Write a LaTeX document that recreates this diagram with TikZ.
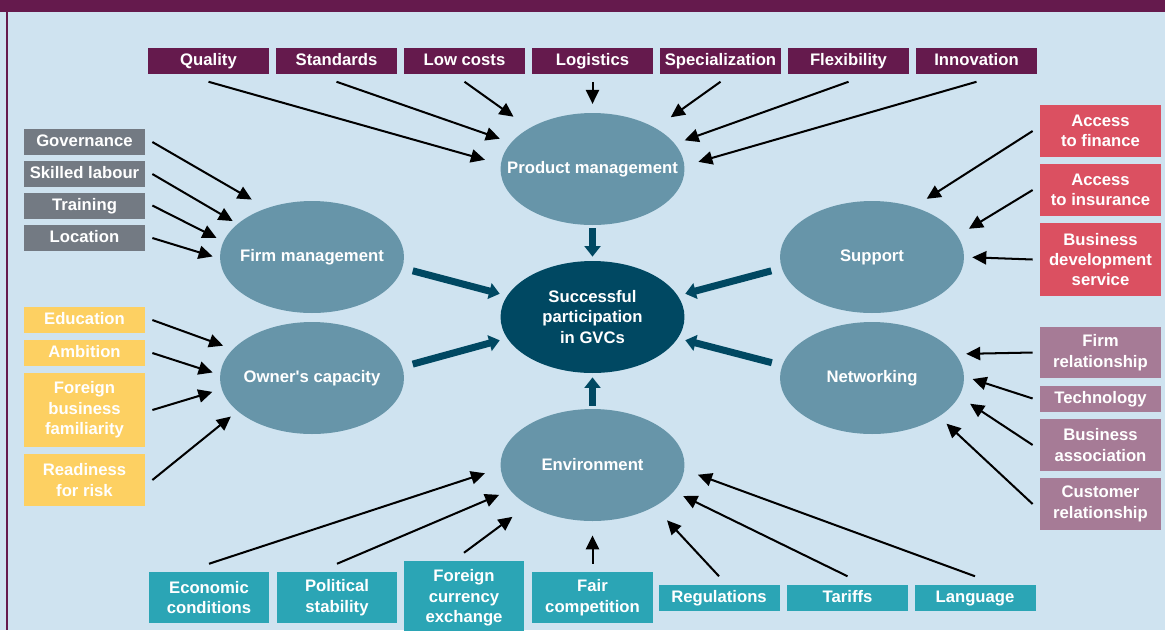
\documentclass[tikz,border=0pt]{standalone}
\usepackage{fontspec}
\setmainfont{Liberation Sans}
\usetikzlibrary{arrows.meta, shapes.geometric}

\definecolor{bgblue}{HTML}{CFE3F0}
\definecolor{plum}{HTML}{651A4D}
\definecolor{slate}{HTML}{737A83}
\definecolor{sand}{HTML}{FDD062}
\definecolor{coral}{HTML}{DB5061}
\definecolor{mauve}{HTML}{A67B96}
\definecolor{sea}{HTML}{2BA5B5}
\definecolor{blobc}{HTML}{6795A9}
\definecolor{core}{HTML}{004862}

\begin{document}
\begin{tikzpicture}[%
        x = 0.02cm, y = -0.02cm,
        > = {Triangle[length=8pt, width=7.5pt]},
        every node/.style = {font=\fontsize{9.5}{11.6}\selectfont\bfseries, text=white},
        tag/.style = {rectangle, fill=#1, minimum width=2.42cm,
            minimum height=0.52cm, inner sep=0pt, align=center},
        flat/.style = {tag=#1, text height=6.8pt, text depth=1.4pt},
        blob/.style = {ellipse, fill=blobc, minimum width=3.68cm,
            minimum height=2.24cm, inner sep=0pt},
        feed/.style = {->, line width=1.15pt},
        push/.style = {-{Triangle[length=6pt, width=9pt]}, line width=4pt, draw=core}
    ]

        \useasboundingbox (0, 0) rectangle (1165, 630);
        \fill[bgblue] (0, 0) rectangle (1165, 630);
        \fill[plum] (0, 0) rectangle (1165, 12);
        \draw[plum, line width=0.6pt] (7, 12) -- (7, 630);

        % the five drivers and the goal
        \node[blob] (pm) at (592.5, 169) [label=center:Product management] {};
        \node[blob] (fm) at (312, 257) [label=center:Firm management] {};
        \node[blob] (oc) at (312, 378) [label=center:Owner\textquotesingle s capacity] {};
        \node[blob] (sp) at (872, 257) [label=center:Support] {};
        \node[blob] (nw) at (872, 378) [label=center:Networking] {};
        \node[blob] (env) at (592.5, 465) [label=center:Environment] {};
        \node[blob, fill=core] (gvc) at (592.5, 317)
            [label={[align=center]center:Successful\\participation\\in GVCs}] {};

        % top row
        \foreach \name/\txt [count=\i from 0] in {qual/Quality, stan/Standards,
                cost/Low costs, logi/Logistics, spec/Specialization,
                flex/Flexibility, inno/Innovation}
            \node[flat=plum] (\name) at (208.5 + 128*\i, 60.5) {\txt};

        % left column
        \node[flat=slate] (gov) at (84.5, 142) {Governance};
        \node[flat=slate] (lab) at (84.5, 174) {Skilled labour};
        \node[flat=slate] (trn) at (84.5, 205.5) {Training};
        \node[flat=slate] (loc) at (84.5, 238) {Location};
        \node[flat=sand] (edu) at (84.5, 320) {Education};
        \node[flat=sand] (amb) at (84.5, 353) {Ambition};
        \node[tag=sand, minimum height=1.48cm] (fbf) at (84.5, 410)
            {Foreign\\business\\familiarity};
        \node[tag=sand, minimum height=1.04cm] (risk) at (84.5, 480)
            {Readiness\\for risk};

        % right column
        \node[tag=coral, minimum height=1.04cm] (fin) at (1100.5, 131) {Access\\to finance};
        \node[tag=coral, minimum height=1.04cm] (ins) at (1100.5, 190) {Access\\to insurance};
        \node[tag=coral, minimum height=1.46cm] (bds) at (1100.5, 259.5)
            {Business\\development\\service};
        \node[tag=mauve, minimum height=1.02cm] (frel) at (1100.5, 352.5) {Firm\\relationship};
        \node[flat=mauve] (tech) at (1100.5, 398.5) {Technology};
        \node[tag=mauve, minimum height=1.04cm] (assoc) at (1100.5, 445) {Business\\association};
        \node[tag=mauve, minimum height=1.04cm] (cust) at (1100.5, 504) {Customer\\relationship};

        % bottom row
        \node[tag=sea, minimum height=1.02cm] (econ) at (209, 597.5) {Economic\\conditions};
        \node[tag=sea, minimum height=1.02cm] (pol) at (337, 597.5) {Political\\stability};
        \node[tag=sea, minimum height=1.48cm] (fce) at (464, 598) {Foreign\\currency\\exchange};
        \node[tag=sea, minimum height=1.02cm] (fair) at (592.5, 597.5) {Fair\\competition};
        \node[flat=sea] (reg) at (719, 597.5) {Regulations};
        \node[flat=sea] (tar) at (847.5, 597.5) {Tariffs};
        \node[flat=sea] (lang) at (975, 597.5) {Language};

        % thin arrows: source / anchor angle / gap
        \foreach \src/\ang/\gap in {qual/177.8/9.2, stan/162.3/6.7, cost/147.8/11,
                logi/90/5, spec/33.2/10.5, flex/17.3/5.8, inno/2.5/8.1}
            \draw[feed, shorten >=\gap pt] ([yshift=-4.5pt]\src.south) -- (pm.\ang);
        \foreach \src/\ang/\gap in {gov/133.7/9.6, lab/156.9/3.1, trn/170/4.3, loc/181.4/4.2}
            \draw[feed, shorten >=\gap pt] ([xshift=4pt]\src.east) -- (fm.\ang);
        \foreach \src/\ang/\gap in {edu/160.3/5.8, amb/178.4/4.3, fbf/187.7/5.4, risk/204.7/4.8}
            \draw[feed, shorten >=\gap pt] ([xshift=4pt]\src.east) -- (oc.\ang);
        \foreach \src/\ang/\gap in {fin/50.4/8.5, ins/14.6/7.6, bds/0/4.5}
            \draw[feed, shorten >=\gap pt] ([xshift=-4pt]\src.west) -- (sp.\ang);
        \foreach \src/\ang/\gap in {frel/16.9/6, tech/1.7/4.9, assoc/348.5/7.4, cust/330.7/5.8}
            \draw[feed, shorten >=\gap pt] ([xshift=-4pt]\src.west) -- (nw.\ang);
        \foreach \src/\ang/\gap in {econ/182.2/9.2, pol/197.7/6.7, fce/212.2/11,
                fair/270/8, reg/326.8/10.5, tar/342.7/5.8, lang/357.5/8.1}
            \draw[feed, shorten >=\gap pt] ([yshift=4.5pt]\src.north) -- (env.\ang);

        % thick arrows into the goal
        \draw[push, shorten <=1.7pt, shorten >=2.3pt] (pm) -- (gvc);
        \draw[push, shorten <=1.7pt, shorten >=2.3pt] (env) -- (gvc);
        \draw[push, shorten <=6pt, shorten >=4.3pt] (fm.-7.9) -- (gvc.166);
        \draw[push, shorten <=6pt, shorten >=4.3pt] (oc.7.9) -- (gvc.194);
        \draw[push, shorten <=6pt, shorten >=4.3pt] (sp.187.9) -- (gvc.14);
        \draw[push, shorten <=6pt, shorten >=4.3pt] (nw.172.1) -- (gvc.346);
    \end{tikzpicture}
\end{document}
